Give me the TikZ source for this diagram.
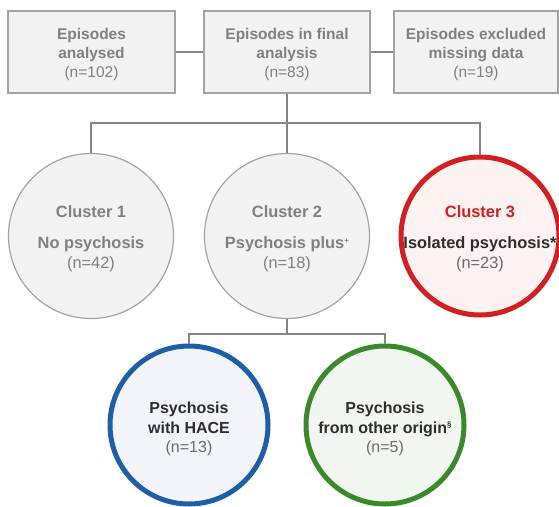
\documentclass[tikz,border=0pt]{standalone}
\usepackage{fontspec}
\setmainfont{Liberation Sans}
\definecolor{boxfill}{HTML}{F2F2F2}
\definecolor{boxline}{HTML}{A3A3A3}
\definecolor{lineGray}{HTML}{858585}
\definecolor{txtgray}{HTML}{808080}
\definecolor{darktxt}{HTML}{2E2E2E}
\definecolor{ntxt}{HTML}{6A6A6A}
\definecolor{redc}{HTML}{D21F1F}
\definecolor{redfill}{HTML}{FCF2F1}
\definecolor{bluec}{HTML}{1C5EA7}
\definecolor{bluefill}{HTML}{F3F4FA}
\definecolor{greenc}{HTML}{3A8A2B}
\definecolor{greenfill}{HTML}{F2F6F0}
\newcommand{\supmark}[1]{\raisebox{5.5pt}{\fontsize{8}{8}\selectfont #1}}
\begin{document}
\begin{tikzpicture}[x=1pt,y=-1pt,
  box/.style={draw=boxline, fill=boxfill, line width=1.3pt, minimum height=82pt, inner sep=0pt},
  graycirc/.style={circle, draw=boxline, fill=boxfill, line width=1.2pt, minimum size=165pt, inner sep=0pt},
  colcirc/.style={circle, line width=5pt, minimum size=158pt, inner sep=0pt},
  txt/.style={align=center, font=\fontsize{15.5}{19}\selectfont\bfseries, text=txtgray, inner sep=0pt},
  ctxt/.style={txt, font=\fontsize{16.4}{19}\selectfont\bfseries},
  btxt/.style={txt, font=\fontsize{16}{19.5}\selectfont\bfseries, text=darktxt},
  conn/.style={draw=lineGray, line width=1.4pt}]
\useasboundingbox (0,0) rectangle (559,506);

% top boxes
\node[box, minimum width=167pt] (b1) at (91.5,52) {};
\node[box, minimum width=166pt] (b2) at (287,52) {};
\node[box, minimum width=164pt] (b3) at (476,52) {};
\node[txt] (t1) at ([yshift=-2pt]b1.center) {Episodes\\analysed\\{\mdseries (n=102)}};
\node[txt] (t2) at ([yshift=-2pt]b2.center) {Episodes in final\\analysis\\{\mdseries (n=83)}};
\node[txt] (t3) at ([yshift=-2pt]b3.center) {Episodes excluded\\missing data\\{\mdseries (n=19)}};

% clusters
\node[graycirc] (c1) at (91,236) {};
\node[graycirc] (c2) at (287,236) {};
\node[colcirc, draw=redc, fill=redfill] (c3) at (480,236) {};
\node[ctxt] (tc1) at ([yshift=-3pt]c1.center) {Cluster 1\\[12pt]No psychosis\\[1pt]{\mdseries (n=42)}};
\node[ctxt] (tc2) at ([yshift=-3pt]c2.center) {Cluster 2\\[12pt]Psychosis plus\supmark{+}\\[1pt]{\mdseries (n=18)}};
\node[ctxt] (tc3) at ([yshift=-3pt]c3.center) {{\color{redc}Cluster 3}\\[12pt]{\color{darktxt}Isolated psychosis*}\\[1pt]{\mdseries\color{ntxt}(n=23)}};

% sub-clusters
\node[colcirc, draw=bluec, fill=bluefill] (h) at (189,425) {};
\node[colcirc, draw=greenc, fill=greenfill] (o) at (385,425) {};
\node[btxt] (th) at ([yshift=-4pt]h.center) {Psychosis\\with HACE\\{\mdseries\color{ntxt}(n=13)}};
\node[btxt] (to) at ([yshift=-4pt]o.center) {Psychosis\\from other origin\supmark{§}\\{\mdseries\color{ntxt}(n=5)}};

% junctions
\coordinate (j1) at (287,123);
\coordinate (j2) at (287,334);

% connectors
\draw[conn] (b1.east) -- (b2.west);
\draw[conn] (b2.east) -- (b3.west);
\draw[conn] (b2.south) -- (c2.north);
\draw[conn] (c1.north) |- (j1) -| (c3.north);
\draw[conn] (c2.south) -- (j2);
\draw[conn] (h.north) |- (j2) -| (o.north);
\end{tikzpicture}
\end{document}
